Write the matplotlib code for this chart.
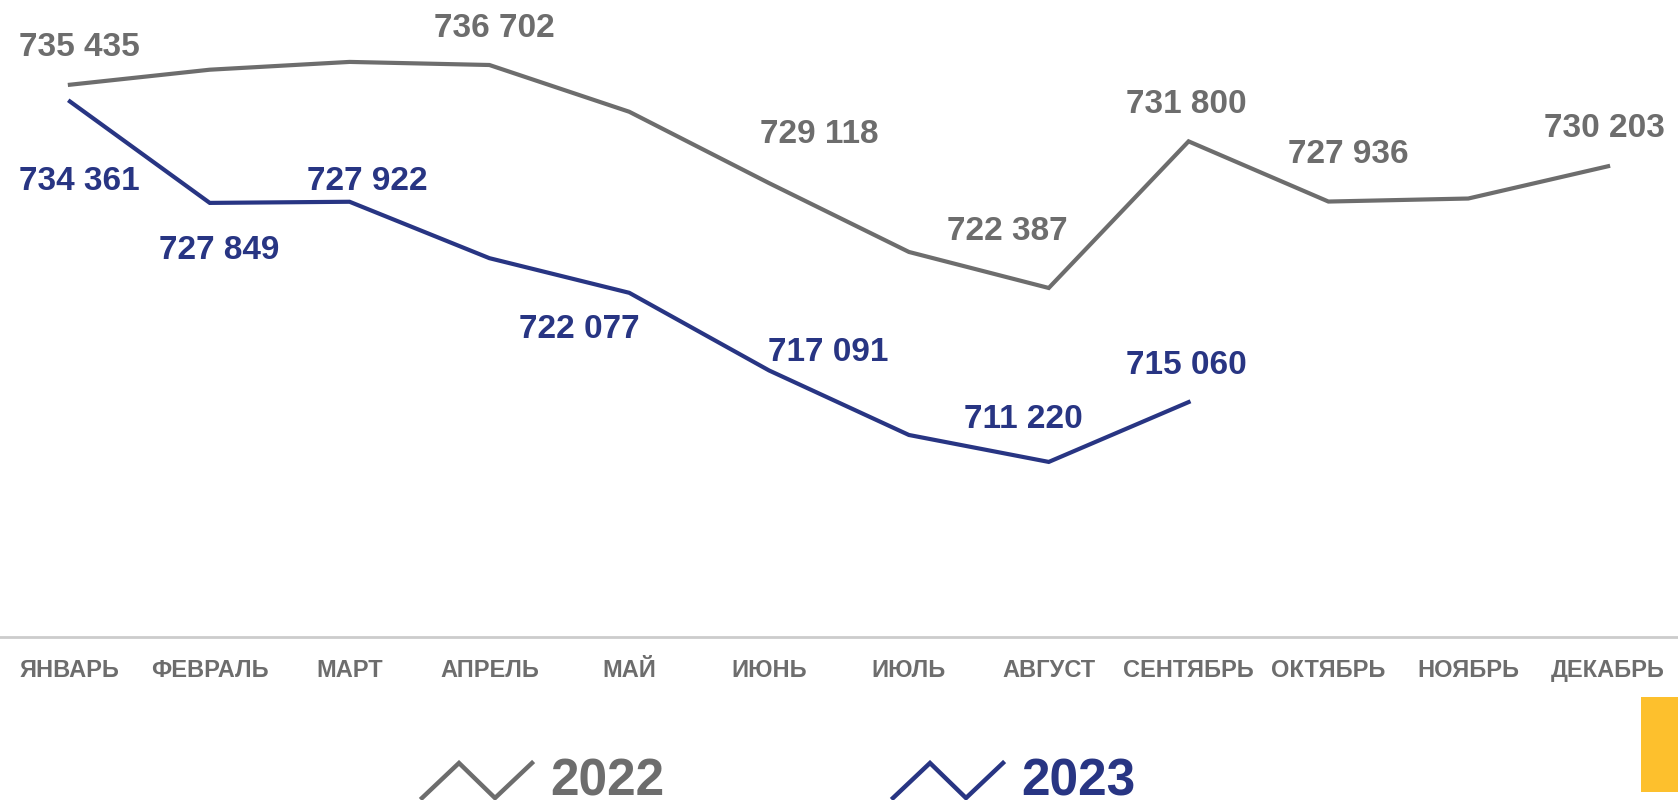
import matplotlib
matplotlib.use("Agg")
import matplotlib.pyplot as plt
from matplotlib.lines import Line2D
from matplotlib.patches import Rectangle

months = ["ЯНВАРЬ", "ФЕВРАЛЬ", "МАРТ", "АПРЕЛЬ", "МАЙ", "ИЮНЬ", "ИЮЛЬ",
          "АВГУСТ", "СЕНТЯБРЬ", "ОКТЯБРЬ", "НОЯБРЬ", "ДЕКАБРЬ"]
values_2022 = [735435, 736400, 736900, 736702, 733700, 729118, 724700,
               722387, 731800, 727936, 728130, 730203]
values_2023 = [734361, 727849, 727922, 724300, 722077, 717091, 712950,
               711220, 715060]
# which points carry a data label
labeled_2022 = [True, False, False, True, False, True, False, True, True, True, False, True]
labeled_2023 = [True, True, True, False, True, True, False, True, True]
series_names = ["2022", "2023"]

GRAY = "#6d6d6d"
BLUE = "#283583"
YELLOW = "#FDC02D"

# label offsets in pixels (dx, dy upward)
off_2022 = [(9, 37), None, None, (5, 37), None, (50, 49), None, (-41, 56),
            (-2, 37), (20, 47), None, (-4, 38)]
off_2023 = [(9, -80), (9, -48), (18, 20), None, (-50, -37), (59, 18), None,
            (-25, 42), (-2, 37)]

plt.rcParams['font.family'] = ['Liberation Sans', 'DejaVu Sans']

W, H = 1678, 800
fig = plt.figure(figsize=(W / 100, H / 100), dpi=100)
ax = fig.add_axes([0, 163 / H, 1, 637 / H])
ax.set_xlim(-0.5, 11.5)
ax.set_ylim(699980, 740875)

x22 = list(range(len(values_2022)))
x23 = list(range(len(values_2023)))
ax.plot(x22, values_2022, color=GRAY, lw=3.0, solid_joinstyle='miter', zorder=3)
ax.plot(x23, values_2023, color=BLUE, lw=3.0, solid_joinstyle='miter', zorder=3)


def fmt(v):
    return f"{v:,}".replace(",", " ")


for xs, vals, labs, offs, col in [(x22, values_2022, labeled_2022, off_2022, GRAY),
                                  (x23, values_2023, labeled_2023, off_2023, BLUE)]:
    for x, v, l, o in zip(xs, vals, labs, offs):
        if l:
            ax.annotate(fmt(v), (x, v), xytext=o, textcoords='offset pixels',
                        ha='center', va='center', fontsize=24, fontweight='bold',
                        color=col, zorder=4)

for s in ["top", "right", "left"]:
    ax.spines[s].set_visible(False)
ax.spines["bottom"].set_color("#cccccc")
ax.spines["bottom"].set_linewidth(2)
ax.set_yticks([])
ax.set_xticks(range(len(months)))
ax.set_xticklabels(months, fontsize=17, fontweight='bold', color=GRAY)
ax.tick_params(axis='x', length=0, pad=16)
ax.patch.set_alpha(0)

# legend
def fx(px):
    return px / W


def fy(py):
    return 1 - py / H


for name, col, x0, tx in [(series_names[0], GRAY, 422, 550), (series_names[1], BLUE, 893, 1021)]:
    xs = [x0, x0 + 37, x0 + 73, x0 + 110]
    ys = [798, 763, 798, 763]
    fig.add_artist(Line2D([fx(v) for v in xs], [fy(v) for v in ys], color=col,
                          lw=3.2, solid_joinstyle='miter', transform=fig.transFigure))
    fig.text(fx(tx), fy(796), name, fontsize=37, fontweight='bold', color=col,
             ha='left', va='baseline')

fig.add_artist(Rectangle((fx(1641), fy(792)), fx(1678) - fx(1641), fy(697) - fy(792),
                         transform=fig.transFigure, color=YELLOW, lw=0))

fig.savefig("out.png", dpi=100)
